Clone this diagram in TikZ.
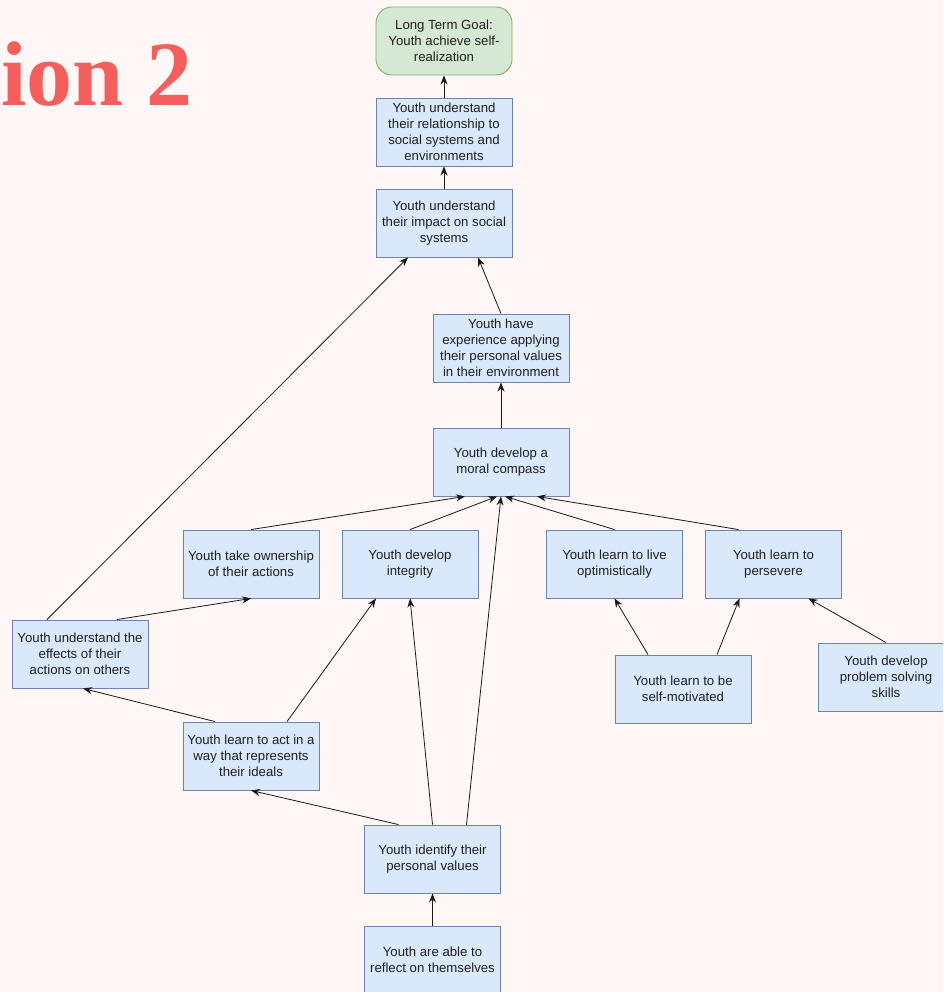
\documentclass[tikz,border=0pt]{standalone}
\usepackage{fontspec}
\setmainfont{Liberation Sans}
\newfontfamily\titlefont{Liberation Serif}
\usetikzlibrary{arrows.meta,positioning}

\definecolor{bgpink}{RGB}{255,246,246}
\definecolor{titlered}{RGB}{242,95,92}
\definecolor{boxfill}{RGB}{218,232,252}
\definecolor{boxline}{RGB}{108,132,171}
\definecolor{goalfill}{RGB}{213,232,212}
\definecolor{goalline}{RGB}{130,179,102}

\tikzset{
  outcome/.style={draw=boxline, fill=boxfill, line width=0.9pt,
    minimum width=136pt, minimum height=68pt, inner sep=1pt,
    align=center, font=\fontsize{13.2}{16}\selectfont, text=black!88},
  goalbox/.style={outcome, draw=goalline, fill=goalfill, rounded corners=16pt},
  leads/.style={-{Stealth[length=9pt,width=7pt]}, line width=0.8pt, black!90}
}

\begin{document}
\begin{tikzpicture}[x=1pt, y=-1pt]
  % Rahmen und Hintergrund
  \useasboundingbox (0,0) rectangle (943,992);
  \fill[bgpink] (0,0) rectangle (943,992);
  \clip (0,0) rectangle (943,992);

  % Titel (abgeschnitten)
  \node[anchor=base west, inner sep=0pt, text=titlered,
        font=\titlefont\bfseries\fontsize{92}{92}\selectfont] (title) at (1,106) {ion 2};

  % Ziel und obere Kette
  \node[goalbox] (goal) at (444,41) {Long Term Goal:\\Youth achieve self-\\realization};
  \node[outcome] (rel) at (444,132) {Youth understand\\their relationship to\\social systems and\\environments};
  \node[outcome] (impact) at (444,223) {Youth understand\\their impact on social\\systems};
  \node[outcome] (exper) at (501,348) {Youth have\\experience applying\\their personal values\\in their environment};
  \node[outcome] (moral) at (501,462) {Youth develop a\\moral compass};

  % mittlere Reihe
  \node[outcome] (own) at (251,564) {Youth take ownership\\of their actions};
  \node[outcome] (integ) at (410,564) {Youth develop\\integrity};
  \node[outcome] (optim) at (614.5,564) {Youth learn to live\\optimistically};
  \node[outcome] (persev) at (773.5,564) {Youth learn to\\persevere};

  % untere Reihen
  \node[outcome] (effects) at (80,654) {Youth understand the\\effects of their\\actions on others};
  \node[outcome] (selfmot) at (683,689) {Youth learn to be\\self-motivated};
  \node[outcome] (problem) at (886,677) {Youth develop\\problem solving\\skills};
  \node[outcome] (actideal) at (251,756) {Youth learn to act in a\\way that represents\\their ideals};
  \node[outcome] (identify) at (432.5,859) {Youth identify their\\personal values};
  \node[outcome] (reflect) at (432.5,960) {Youth are able to\\reflect on themselves};

  % Pfeile
  \draw[leads] (rel) -- (goal);
  \draw[leads] (impact) -- (rel);
  \draw[leads] (exper.north) -- ([xshift=34pt]impact.south);
  \draw[leads] ([xshift=-33pt]effects.north) -- ([xshift=-36pt]impact.south);
  \draw[leads] (moral) -- (exper);

  \draw[leads] (own.north) -- ([xshift=-36pt]moral.south);
  \draw[leads] (integ.north) -- ([xshift=-4pt]moral.south);
  \draw[leads] ([xshift=34pt]identify.north) -- (moral.south);
  \draw[leads] (optim.north) -- ([xshift=4pt]moral.south);
  \draw[leads] ([xshift=-35pt]persev.north) -- ([xshift=36pt]moral.south);

  \draw[leads] ([xshift=37pt]effects.north) -- (own.south);
  \draw[leads] ([xshift=-36pt]actideal.north) -- ([xshift=3pt]effects.south);
  \draw[leads] ([xshift=36pt]actideal.north) -- ([xshift=-34pt]integ.south);
  \draw[leads] (identify.north) -- (integ.south);
  \draw[leads] ([xshift=-34pt]identify.north) -- (actideal.south);
  \draw[leads] (reflect) -- (identify);

  \draw[leads] ([xshift=-35pt]selfmot.north) -- (optim.south);
  \draw[leads] ([xshift=34pt]selfmot.north) -- ([xshift=-34pt]persev.south);
  \draw[leads] (problem.north) -- ([xshift=35pt]persev.south);
\end{tikzpicture}
\end{document}
